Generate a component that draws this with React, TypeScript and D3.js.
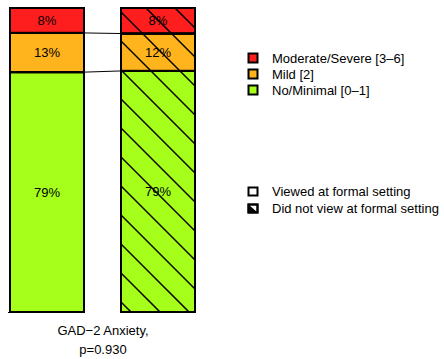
import React from "react";
import * as d3 from "d3";

const groups = ["Viewed at formal setting", "Did not view at formal setting"];
const categories = ["No/Minimal [0\u20131]", "Mild [2]", "Moderate/Severe [3\u20136]"];
const viewedValues = [78.9, 12.9, 8.2];
const notViewedValues = [79.3, 12.3, 8.4];
const viewedLabels = ["79%", "13%", "8%"];
const notViewedLabels = ["79%", "12%", "8%"];
const colors = ["#A6FF1A", "#FFB41E", "#FF1E1E"];
const legendOrder = [2, 1, 0];
const axisTitle = ["GAD\u22122 Anxiety,", "p=0.930"];

export default function App() {
  const W = 444, H = 359;
  const font = "'Liberation Sans', Arial, sans-serif";
  const x = d3.scaleBand<string>().domain(groups).range([10, 195]).paddingInner(1 / 3).paddingOuter(0);
  const y = d3.scaleLinear().domain([0, 100]).range([312, 8]);
  const bw = x.bandwidth();

  const seriesList = [viewedValues, notViewedValues];
  const labelList = [viewedLabels, notViewedLabels];
  const stacks = seriesList.map((vals) => {
    let acc = 0;
    return vals.map((v) => {
      const s = { y0: acc, y1: acc + v };
      acc += v;
      return s;
    });
  });

  const x2 = x(groups[1])!;
  const hatchSpacing = 29;
  const hatchLines = d3.range(-20, 20).map((k) => 22 + hatchSpacing * k);

  return (
    <svg width={W} height={H} style={{ position: "absolute", left: 0, top: 0 }} fontFamily={font}>
      <defs>
        <clipPath id="bar2clip">
          <rect x={x2} y={y(100)} width={bw} height={y(0) - y(100)} />
        </clipPath>
        <clipPath id="lgclip">
          <rect x={0.5} y={0.5} width={9} height={8} />
        </clipPath>
      </defs>
      {groups.map((g, gi) => (
        <g key={g}>
          {stacks[gi].map((s, i) => (
            <rect
              key={i}
              x={x(g)!}
              y={y(s.y1)}
              width={bw}
              height={y(s.y0) - y(s.y1)}
              fill={colors[i]}
              stroke="#000"
              strokeWidth={2}
            />
          ))}
        </g>
      ))}
      <g clipPath="url(#bar2clip)">
        {hatchLines.map((c, i) => (
          <line key={i} x1={c} y1={0} x2={c + 400} y2={400} stroke="#000" strokeWidth={1.5} />
        ))}
      </g>
      {groups.map((g, gi) => (
        <g key={g + "b"}>
          {stacks[gi].map((s, i) => (
            <rect
              key={i}
              x={x(g)!}
              y={y(s.y1)}
              width={bw}
              height={y(s.y0) - y(s.y1)}
              fill="none"
              stroke="#000"
              strokeWidth={2}
            />
          ))}
          {stacks[gi].map((s, i) => (
            <text
              key={"t" + i}
              x={x(g)! + bw / 2}
              y={(y(s.y0) + y(s.y1)) / 2 + 4.5}
              textAnchor="middle"
              fontSize={13}
              fill="#000"
            >
              {labelList[gi][i]}
            </text>
          ))}
        </g>
      ))}
      {[1, 2].map((i) => (
        <line
          key={"c" + i}
          x1={x(groups[0])! + bw}
          x2={x2}
          y1={y(stacks[0][i].y0)}
          y2={y(stacks[1][i].y0)}
          stroke="#000"
          strokeWidth={1}
        />
      ))}
      <line x1={8} x2={85} y1={312.5} y2={312.5} stroke="#000" strokeWidth={1} />
      {axisTitle.map((t, i) => (
        <text key={t} x={103} y={335 + i * 19} textAnchor="middle" fontSize={13} fill="#000">
          {t}
        </text>
      ))}
      {legendOrder.map((ci, i) => (
        <g key={"l" + ci} transform={`translate(248, ${53 + i * 16})`}>
          <rect x={0.5} y={0.5} width={9} height={9} fill={colors[ci]} stroke="#000" strokeWidth={2} />
          <text x={24} y={9.5} fontSize={13} fill="#000">
            {categories[ci]}
          </text>
        </g>
      ))}
      {groups.map((g, i) => (
        <g key={"lg" + i} transform={`translate(248, ${187 + i * 17})`}>
          <rect x={0.5} y={0.5} width={9} height={8} fill="#fff" stroke="#000" strokeWidth={2} />
          {i === 1 && (
            <>
              <path d="M0.5,0.5 L9.5,8.5 L0.5,8.5 Z" fill="#000" clipPath="url(#lgclip)" />
              <rect x={0.5} y={0.5} width={9} height={8} fill="none" stroke="#000" strokeWidth={2} />
            </>
          )}
          <text x={24} y={9} fontSize={13} fill="#000">
            {g}
          </text>
        </g>
      ))}
    </svg>
  );
}
